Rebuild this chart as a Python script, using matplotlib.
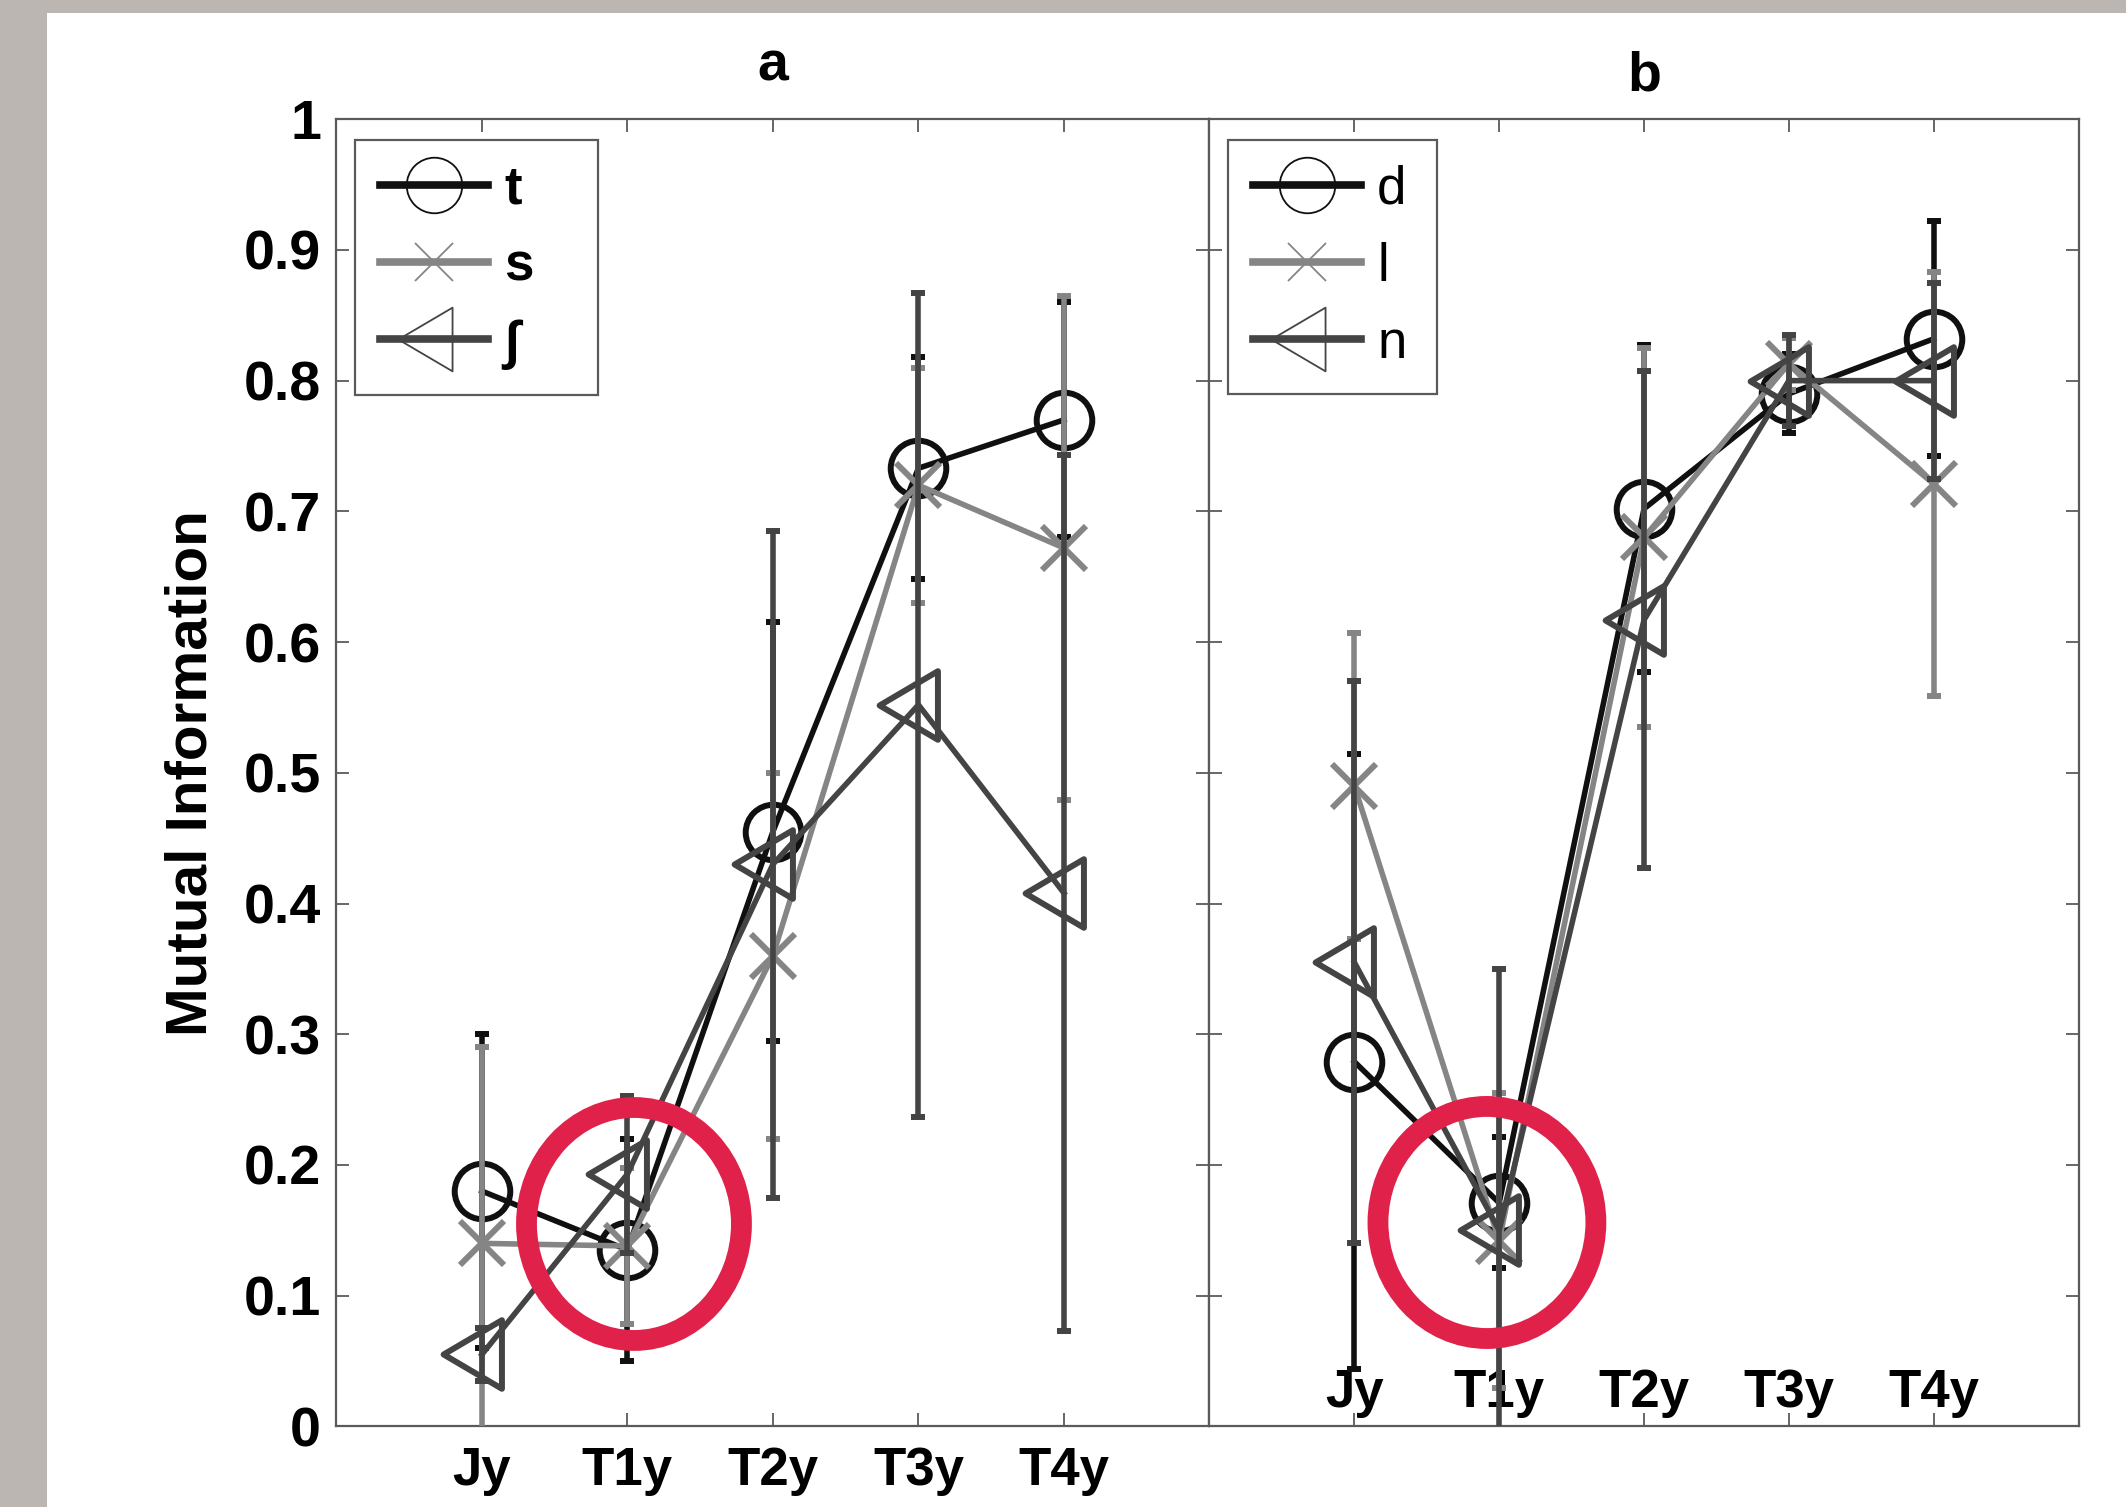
import matplotlib.pyplot as plt
import numpy as np
from matplotlib.lines import Line2D
from matplotlib.patches import Ellipse, Rectangle
from matplotlib.path import Path

plt.rcParams['font.family'] = ['Liberation Sans', 'DejaVu Sans']

stages = ['Jy', 'T1y', 'T2y', 'T3y', 'T4y']

# ---- panel a: mutual information per stage (mean, half error bar) ----
t_mi = [0.180, 0.135, 0.455, 0.733, 0.770]
t_err = [0.120, 0.085, 0.160, 0.085, 0.090]
s_mi = [0.140, 0.138, 0.360, 0.720, 0.672]
s_err = [0.150, 0.060, 0.140, 0.090, 0.193]
int_mi = [0.055, 0.193, 0.430, 0.552, 0.408]
int_err = [0.020, 0.060, 0.255, 0.315, 0.335]

# ---- panel b ----
d_mi = [0.279, 0.171, 0.702, 0.790, 0.832]
d_err = [0.235, 0.050, 0.125, 0.030, 0.090]
l_mi = [0.490, 0.142, 0.680, 0.813, 0.721]
l_err = [0.117, 0.113, 0.145, 0.020, 0.162]
n_mi = [0.355, 0.150, 0.617, 0.800, 0.800]
n_err = [0.215, 0.200, 0.190, 0.035, 0.075]

# rings drawn round the T1y points: centre and size in figure fractions
highlight_a = (0.2982, 0.1878, 0.1011, 0.1546)
highlight_b = (0.6994, 0.1888, 0.1025, 0.1540)

BLACK = '#101010'
GRAY = '#858585'
DARK = '#444444'
FRAME = '#5a5a5a'

# left-pointing triangle centred on its centroid (MATLAB style '<')
tri_left = Path([(-1.0, 0.0), (0.5, -0.882), (0.5, 0.882), (-1.0, 0.0)],
                [Path.MOVETO, Path.LINETO, Path.LINETO, Path.CLOSEPOLY])

series_style = [
    dict(color=BLACK, marker='o', ms=40, leg_ms=40),
    dict(color=GRAY, marker='x', ms=32, leg_ms=28),
    dict(color=DARK, marker=tri_left, ms=56, leg_ms=52),
]

x = np.arange(1, len(stages) + 1)

fig = plt.figure(figsize=(21.26, 15.07), dpi=100)
fig.patch.set_facecolor('white')
fig.add_artist(Rectangle((0, 1 - 13 / 1507), 1, 13 / 1507, transform=fig.transFigure,
                         facecolor='#bbb6b2', edgecolor='none'))
fig.add_artist(Rectangle((0, 0), 47 / 2126, 1, transform=fig.transFigure,
                         facecolor='#bbb6b2', edgecolor='none'))

ax_a = fig.add_axes([0.1582, 0.0535, 0.4107, 0.8674])
ax_b = fig.add_axes([0.5689, 0.0535, 0.4088, 0.8674])


def draw_panel(ax, values, errors, labels, bold_labels, legend_width):
    for k, (vals, errs, st) in enumerate(zip(values, errors, series_style)):
        ax.errorbar(x, vals, yerr=errs, color=st['color'], lw=4, elinewidth=4,
                    capsize=5, capthick=4, marker=st['marker'], ms=st['ms'],
                    mfc='none', mec=st['color'], mew=4.3, zorder=3 + k)
    ax.set_xlim(0, 6)
    ax.set_ylim(0, 1)
    ax.set_xticks(x)
    ax.set_xticklabels(stages, fontsize=38, fontweight='bold')
    ax.set_yticks(np.arange(0, 1.01, 0.1))
    ax.tick_params(direction='in', length=9.5, width=1.3, color=FRAME,
                   top=True, right=True)
    for sp in ax.spines.values():
        sp.set_color(FRAME)
        sp.set_linewidth(1.6)

    handles = [Line2D([], [], color=st['color'], lw=5.5, marker=st['marker'],
                      ms=st['leg_ms'], mfc='none', mec=st['color'], mew=1.3)
               for st in series_style]
    leg = ax.legend(handles, labels, loc='upper left',
                    bbox_to_anchor=(0.0217, 0.0, legend_width, 0.984), mode='expand',
                    borderaxespad=0, fontsize=38, handlelength=2.05, handletextpad=0.3,
                    borderpad=0.47, labelspacing=0.51, fancybox=False, framealpha=1)
    leg.get_frame().set_edgecolor(FRAME)
    leg.get_frame().set_linewidth(1.6)
    if bold_labels:
        for txt in leg.get_texts():
            txt.set_fontweight('bold')


draw_panel(ax_a, [t_mi, s_mi, int_mi], [t_err, s_err, int_err],
           ['t', 's', '\u222b'], True, 0.278)
draw_panel(ax_b, [d_mi, l_mi, n_mi], [d_err, l_err, n_err],
           ['d', 'l', 'n'], False, 0.240)

ax_a.set_yticklabels([f'{v:g}' for v in np.arange(0, 1.01, 0.1).round(1)],
                     fontsize=40, fontweight='bold')
ax_a.tick_params(axis='y', pad=11)
ax_a.tick_params(axis='x', pad=14)
ax_a.set_ylabel('Mutual Information', fontsize=42, fontweight='bold', labelpad=18)
ax_a.set_title('a', fontsize=40, fontweight='bold', pad=28)

# panel b carries its stage labels just inside the bottom edge
ax_b.set_yticklabels([])
ax_b.tick_params(axis='x', pad=-42)
ax_b.set_title('b', fontsize=40, fontweight='bold', pad=21)

# red rings around the T1y points
for cx, cy, w, h in (highlight_a, highlight_b):
    fig.add_artist(Ellipse((cx, cy), w, h, transform=fig.transFigure, fill=False,
                           edgecolor='#e0214a', linewidth=15, zorder=20))

fig.savefig('out.png', dpi=100)
